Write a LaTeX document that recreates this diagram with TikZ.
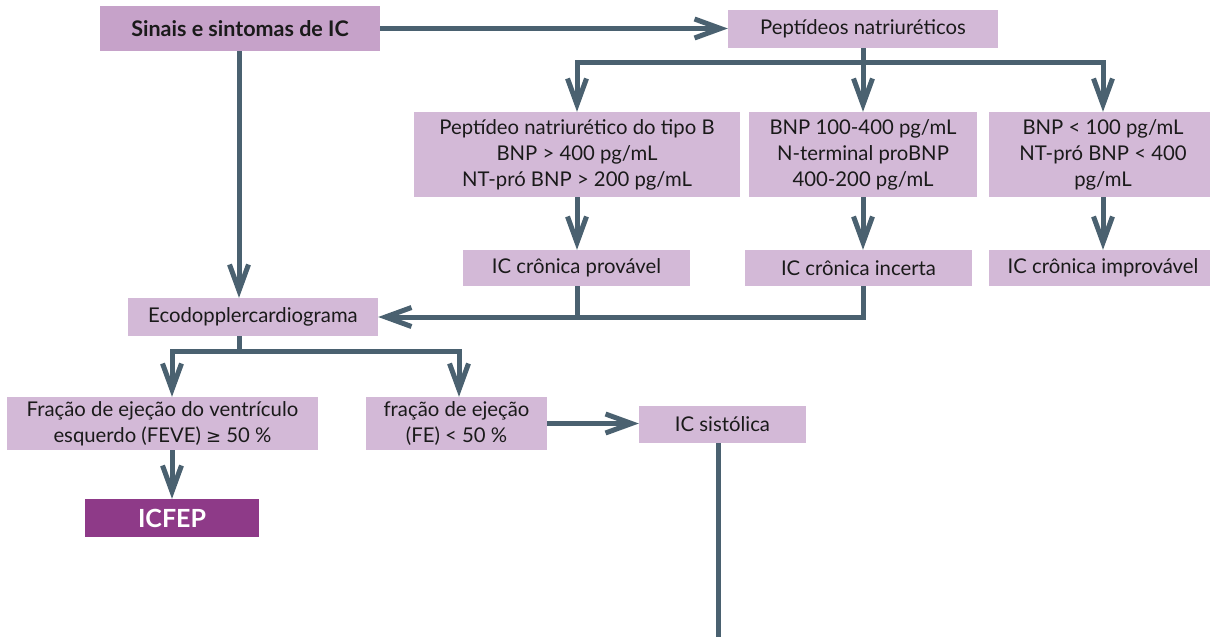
\documentclass[tikz,border=0pt]{standalone}
\usepackage{fontspec}
\setmainfont{Lato}
\newfontfamily\symf{DejaVu Sans}
\usetikzlibrary{arrows.meta}
\definecolor{boxl}{HTML}{D3B9D7}
\definecolor{boxd}{HTML}{C6A2C9}
\definecolor{boxp}{HTML}{8E3A88}
\definecolor{ln}{HTML}{4A6170}
\definecolor{txt}{HTML}{1A1A1A}
\begin{document}
\begin{tikzpicture}[x=1pt,y=-1pt,
  box/.style={fill=boxl, inner sep=0pt, align=center, text=txt,
    font=\fontsize{20.3}{26}\selectfont},
  conn/.style={draw=ln, line width=5pt},
  arr/.style={conn, -{Straight Barb[length=26pt,width=19pt]}}]
\useasboundingbox (0,0) rectangle (1210,637);
\clip (0,0) rectangle (1210,637);

\node[box, fill=boxd, minimum width=280pt, minimum height=45pt, font=\fontsize{21.5}{26}\selectfont\bfseries] (sinais) at (240,28.5) {Sinais e sintomas de IC};
\node[box, minimum width=270pt, minimum height=38pt] (pept) at (863,29) {Peptídeos natriuréticos};

\node[box, minimum width=326pt, minimum height=85pt] (A) at (577,154.5) {Peptídeo natriurético do tipo B\\BNP > 400 pg/mL\\NT-pró BNP > 200 pg/mL};
\node[box, minimum width=228pt, minimum height=85pt] (B) at (863,154.5) {BNP 100-400 pg/mL\\N-terminal proBNP\\400-200 pg/mL};
\node[box, minimum width=228pt, minimum height=85pt] (C) at (1103,154.5) {BNP < 100 pg/mL\\NT-pró BNP < 400\\pg/mL};

\node[box, minimum width=227pt, minimum height=36pt] (prov) at (576.5,268) {IC crônica provável};
\node[box, minimum width=227pt, minimum height=36pt] (inc) at (858.5,268) {IC crônica incerta};
\node[box, minimum width=228pt, minimum height=36pt] (improv) at (1103,268) {IC crônica improvável};

\node[box, minimum width=250pt, minimum height=38pt] (eco) at (253,317) {Ecodopplercardiograma};

\node[box, minimum width=311pt, minimum height=53pt] (frac) at (162.5,423.5) {Fração de ejeção do ventrículo\\esquerdo (FEVE) {\symf\fontsize{18}{26}\selectfont ≥} 50 \%};
\node[box, minimum width=181pt, minimum height=53pt] (fe) at (456.5,423.5) {fração de ejeção\\(FE) < 50 \%};
\node[box, minimum width=167pt, minimum height=37pt] (sist) at (722.5,424.5) {IC sistólica};
\node[box, fill=boxp, text=white, minimum width=174pt, minimum height=38pt, font=\fontsize{25}{26}\selectfont\bfseries] (icfep) at (172,518) {ICFEP};

\coordinate (j1) at (863,62);
\coordinate (j2) at (239,351);
\coordinate (bot) at (718,645);

% top
\draw[arr] (sinais.east) -- (sinais.east -| pept.west);
\draw[arr] (pept.south) -- (B.north);
\draw[arr] (j1) -| (A.north);
\draw[arr] (j1) -| (C.north);

% second level
\draw[arr] (A.south) -- (A.south |- prov.north);
\draw[arr] (B.south) -- (B.south |- inc.north);
\draw[arr] (C.south) -- (improv.north);

% to eco
\draw[arr] (sinais.south -| j2) -- (j2 |- eco.north);
\draw[arr] (B.south |- inc.south) |- (eco.east);
\draw[conn] (A.south |- prov.south) -- (A.south |- eco.east);

% eco branches
\draw[conn] (j2 |- eco.south) -- (j2);
\draw[arr] (j2) -| ([xshift=9.5pt]frac.north);
\draw[arr] (j2) -| ([xshift=2.5pt]fe.north);
\draw[arr] ([xshift=9.5pt]frac.south) -- (icfep.north);
\draw[arr] (fe.east) -- (fe.east -| sist.west);
\draw[conn] (sist.south -| bot) -- (bot);
\end{tikzpicture}
\end{document}
